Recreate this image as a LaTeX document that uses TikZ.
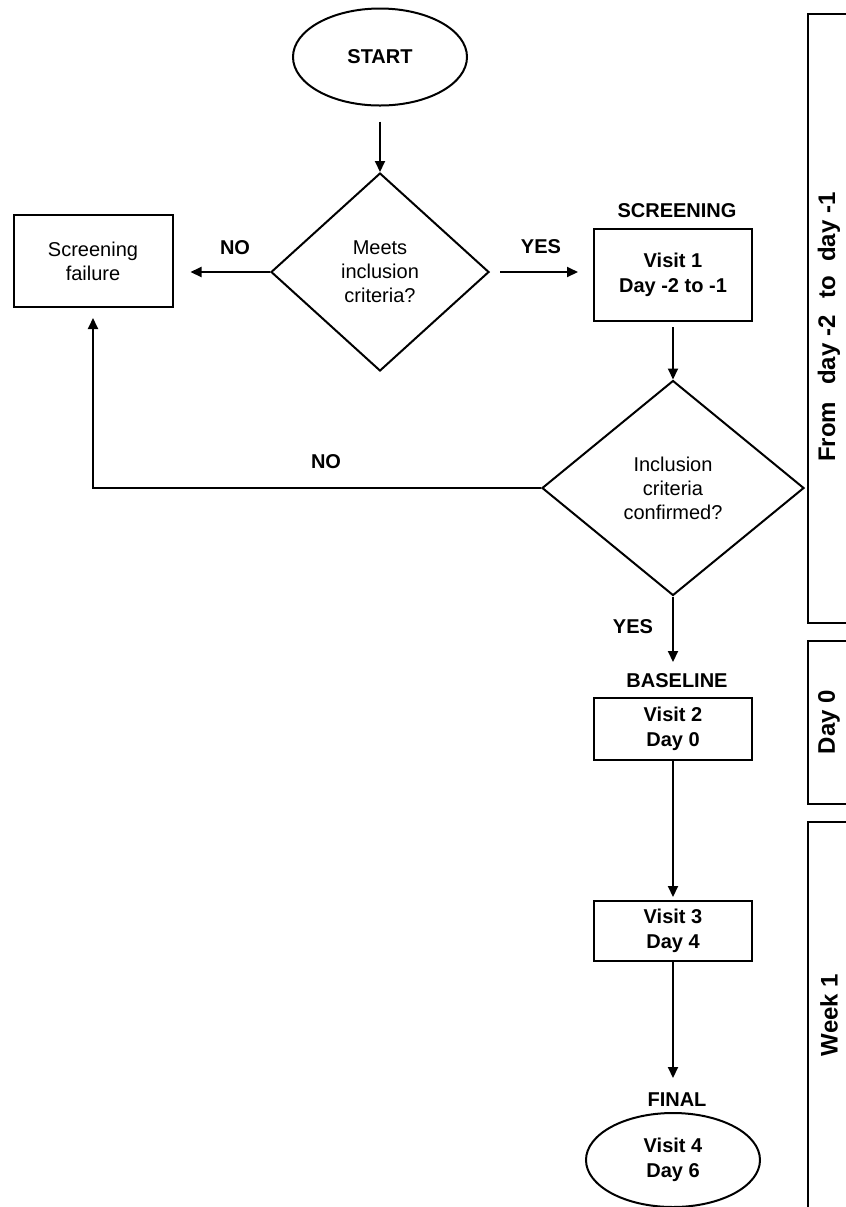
\documentclass[tikz,border=0pt]{standalone}
\usepackage{fontspec}
\setmainfont{Liberation Sans}
\usetikzlibrary{arrows.meta,positioning,shapes.geometric}
\tikzset{
  terminal/.style={draw,ellipse,minimum width=87pt,align=center,font=\fontsize{10}{12.5}\selectfont\bfseries},
  decision/.style={draw,diamond,inner sep=0pt,align=center,font=\fontsize{10}{12}\selectfont},
  plainbox/.style={draw,minimum width=79.5pt,minimum height=46pt,align=center,font=\fontsize{10}{12}\selectfont},
  visitbox/.style={draw,minimum width=79pt,align=center,font=\fontsize{10}{12.5}\selectfont\bfseries},
  tag/.style={font=\fontsize{10}{12}\selectfont\bfseries},
  sidetext/.style={rotate=90,font=\fontsize{12}{14}\selectfont\bfseries},
}
\begin{document}
\begin{tikzpicture}[x=0.5pt,y=-0.5pt,line width=1pt,>={Triangle[length=5.5pt,width=5pt]}]
\useasboundingbox (0,0) rectangle (846,1207);
\clip (0,0) rectangle (846,1207);
% Start and first check
\node[terminal,minimum height=48.5pt] (start) at (380,57) {START};
\node[decision,minimum width=109pt,minimum height=99pt] (meets) at (380,272) {Meets\\inclusion\\criteria?};
\node[plainbox] (fail) at (93,261) {Screening\\failure};
\node[tag] (nolbl) at (235,248) {NO};
\node[tag] (yeslbl) at (541,247) {YES};
% Screening
\node[tag] (scrlbl) at (677,211) {SCREENING};
\node[visitbox,minimum height=46pt] (visit1) at (673,275) {Visit 1\\Day -2 to -1};
\node[decision,minimum width=131pt,minimum height=107.5pt] (confirm) at (673,488) {Inclusion\\criteria\\confirmed?};
\node[tag] (nolbltwo) at (326,462) {NO};
\node[tag] (yeslbltwo) at (633,627) {YES};
% Baseline, visit 3, final
\node[tag] (baselbl) at (677,681) {BASELINE};
\node[visitbox,minimum height=31pt] (visit2) at (673,729) {Visit 2\\Day 0};
\node[visitbox,minimum height=30pt] (visit3) at (673,931) {Visit 3\\Day 4};
\node[tag] (finlbl) at (677,1100) {FINAL};
\node[terminal,minimum height=47pt] (visit4) at (673,1160) {Visit 4\\Day 6};
% Connectors
\draw[->,shorten <=7.5pt] (start) -- (meets);
\draw[->,shorten >=8.5pt] (meets.west) -- (meets.west -| fail.east);
\draw[->,shorten <=5pt,shorten >=7.5pt] (meets.east) -- (meets.east -| visit1.west);
\draw[->,shorten <=2.5pt] (visit1) -- (confirm);
\draw[->,shorten >=5pt] (confirm.west) -| (fail.south);
\draw[->,shorten >=17.5pt] (confirm) -- (visit2);
\draw[->,shorten >=1.5pt] (visit2) -- (visit3);
\draw[->,shorten >=17pt] (visit3) -- (visit4);
% Time panels
\draw (808,14) rectangle (900,623);
\node[sidetext] (period1) at (829,327) {From\hspace{0.7em}day -2\hspace{0.7em}to\hspace{0.6em}day -1};
\draw (808,641) rectangle (900,804);
\node[sidetext] (period2) at (829,722) {Day 0};
\draw (808,822) rectangle (900,1240);
\node[sidetext] (period3) at (829,1015) {Week 1};
\end{tikzpicture}
\end{document}
